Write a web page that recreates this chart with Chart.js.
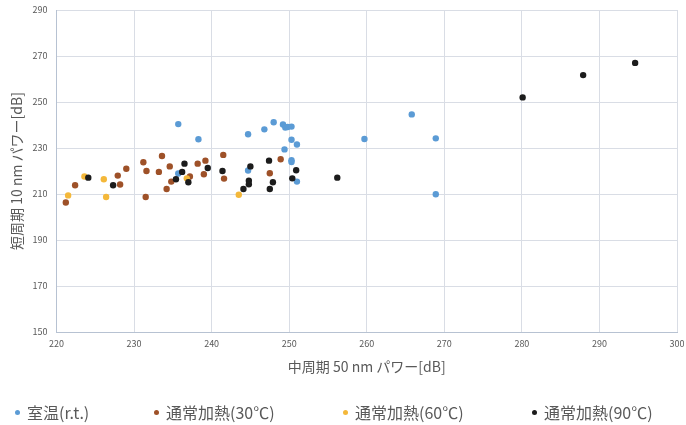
<!DOCTYPE html>
<html lang="ja">
<head>
<meta charset="utf-8">
<title>中周期 vs 短周期 パワー</title>
<script src="https://cdn.jsdelivr.net/npm/chart.js@4"></script>
<style>
  body { margin: 0; background: #fff; }
  #wrap { position: relative; width: 686px; height: 425px; }
  #legend { position: absolute; left: 0; top: 401px; width: 686px; height: 22px;
    font-family: "Noto Sans CJK JP", "Noto Sans", sans-serif; font-size: 16px; color: #595959; }
  #legend .item { position: absolute; top: 0; white-space: nowrap; line-height: 22px; }
  #legend .dot { position: absolute; left: -12.5px; top: 9px; width: 5px; height: 5px; border-radius: 50%; }
</style>
</head>
<body>
<div id="wrap">
  <canvas id="chart"></canvas>
  <div id="legend"></div>
</div>
<script>
// 室温(r.t.)
const rtX = [235.7, 238.3, 235.7, 244.7, 246.8, 248.0, 249.2, 249.5, 249.8, 250.3, 250.3, 251.0, 249.4, 250.3, 250.3, 244.7, 251.0, 259.7, 265.8, 268.9, 268.9];
const rtY = [240.4, 233.8, 218.9, 236.0, 238.1, 241.2, 240.2, 238.9, 239.1, 239.3, 233.6, 231.5, 229.4, 224.7, 223.9, 220.2, 215.4, 233.9, 244.6, 234.2, 209.9];

// 通常加熱(30℃)
const h30X = [221.2, 222.4, 228.2, 227.9, 229.0, 231.2, 231.6, 231.5, 233.6, 234.6, 233.2, 238.2, 239.2, 239.0, 237.2, 234.8, 234.2, 241.5, 241.6, 248.9, 247.5];
const h30Y = [206.3, 213.8, 214.1, 218.0, 221.0, 223.8, 220.0, 208.7, 226.5, 222.0, 219.6, 223.2, 224.5, 218.6, 217.6, 215.4, 212.2, 227.0, 216.7, 225.1, 219.0];

// 通常加熱(60℃)
const h60X = [221.5, 223.6, 226.1, 226.4, 236.8, 243.5];
const h60Y = [209.4, 217.6, 216.4, 208.7, 216.8, 209.7];

// 通常加熱(90℃)
const h90X = [224.1, 227.3, 236.5, 239.5, 236.2, 235.4, 237.0, 241.4, 245.0, 247.4, 250.9, 250.4, 247.9, 244.8, 244.8, 244.1, 247.5, 256.2, 280.1, 287.9, 294.6];
const h90Y = [217.1, 213.8, 223.2, 221.3, 219.6, 216.4, 215.1, 220.0, 222.0, 224.5, 220.3, 216.8, 215.1, 215.8, 214.2, 212.2, 212.2, 217.1, 252.0, 261.7, 267.0];

const seriesNames = ["室温(r.t.)", "通常加熱(30℃)", "通常加熱(60℃)", "通常加熱(90℃)"];
const seriesColors = ["#5b9bd5", "#9e5128", "#f4b83a", "#1c1c1c"];
const xTitle = "中周期 50 nm パワー[dB]";
const yTitle = "短周期 10 nm パワー[dB]";

const toPoints = (xs, ys) => xs.map((x, i) => ({ x, y: ys[i] }));
const allX = [rtX, h30X, h60X, h90X];
const allY = [rtY, h30Y, h60Y, h90Y];

const font = "'Noto Sans CJK JP', 'Noto Sans', sans-serif";
const textColor = "#595959";

const datasets = seriesNames.map((name, i) => ({
  label: name,
  data: toPoints(allX[i], allY[i]),
  backgroundColor: seriesColors[i],
  borderColor: seriesColors[i],
  borderWidth: 0,
  pointRadius: 3.2,
  pointHoverRadius: 3.2,
  order: 4 - i, // 後の系列を上に描画
}));

new Chart(document.getElementById("chart"), {
  type: "scatter",
  data: { datasets },
  options: {
    responsive: true,
    maintainAspectRatio: false,
    animation: false,
    layout: { padding: { left: 0, right: 9, top: 10, bottom: 50 } },
    plugins: {
      legend: { display: false },
      tooltip: { enabled: false },
    },
    scales: {
      x: {
        type: "linear",
        min: 220,
        max: 300,
        ticks: { stepSize: 10, color: textColor, font: { family: font, size: 9 }, padding: 6 },
        grid: { color: "#d9dde5", drawTicks: false },
        border: { color: "#b7c2d2" },
        title: { display: true, text: xTitle, color: textColor, font: { family: font, size: 14 }, padding: 0 },
        afterFit: (scale) => {
          scale.height = 43;
          scale.paddingLeft = 0;
          scale.paddingRight = 0;
        },
      },
      y: {
        type: "linear",
        min: 150,
        max: 290,
        ticks: { stepSize: 20, color: textColor, font: { family: font, size: 9 }, padding: 9 },
        grid: { color: "#d9dde5", drawTicks: false },
        border: { color: "#b7c2d2" },
        title: { display: true, text: yTitle, color: textColor, font: { family: font, size: 14 }, padding: { top: 8 } },
        afterFit: (scale) => {
          scale.width = 56.5;
          scale.paddingTop = 0;
          scale.paddingBottom = 0;
        },
      },
    },
  },
});

// 凡例（Excel風に左寄せ・等間隔）
const legendLeft = [27, 166, 355, 544];
const legendEl = document.getElementById("legend");
seriesNames.forEach((name, i) => {
  const item = document.createElement("span");
  item.className = "item";
  item.style.left = legendLeft[i] + "px";
  const dot = document.createElement("span");
  dot.className = "dot";
  dot.style.background = seriesColors[i];
  item.appendChild(dot);
  item.appendChild(document.createTextNode(name));
  legendEl.appendChild(item);
});
</script>
</body>
</html>
